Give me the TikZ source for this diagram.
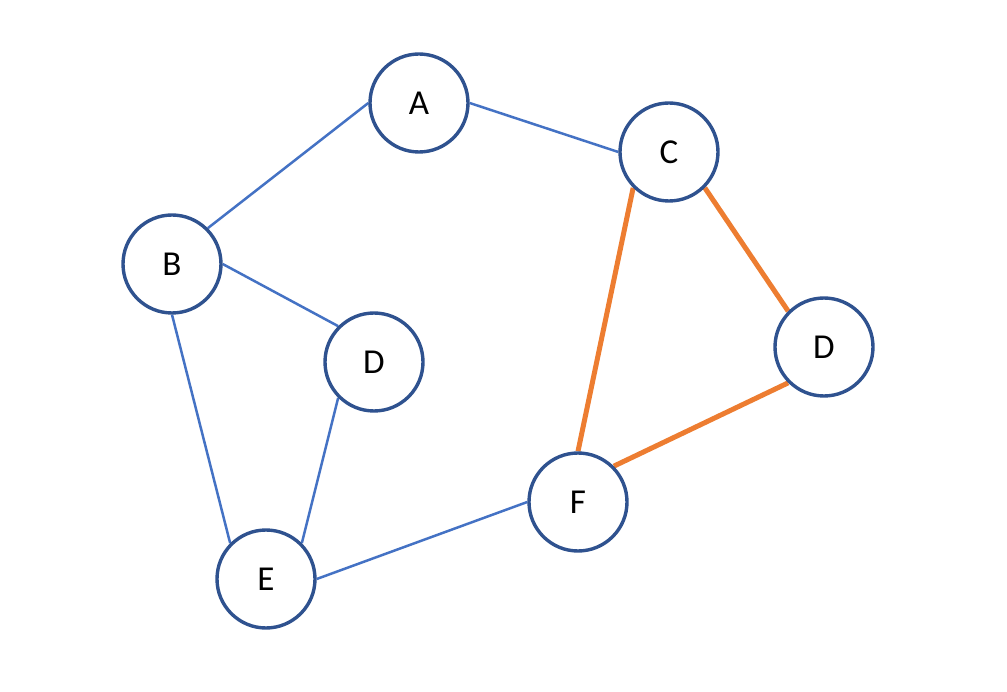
\documentclass[tikz,border=0pt]{standalone}
\usepackage{fontspec}
\setmainfont{Carlito}
\definecolor{nodeborder}{HTML}{2F528F}
\definecolor{blueedge}{HTML}{4472C4}
\definecolor{orangeedge}{HTML}{ED7D31}
\pgfdeclarelayer{bg}
\pgfsetlayers{bg,main}
\tikzset{
  vertex/.style={circle, draw=nodeborder, line width=3.4pt, fill=white, minimum size=98pt, inner sep=0pt, font=\fontsize{35}{40}\selectfont},
  bedge/.style={draw=blueedge, line width=2.5pt},
  oedge/.style={draw=orangeedge, line width=5pt}
}
\begin{document}
\begin{tikzpicture}[x=1pt,y=-1pt]
\useasboundingbox (0,0) rectangle (1007,692);
\node[vertex] (A) at (419,103) {A};
\node[vertex] (C) at (669,152) {C};
\node[vertex] (B) at (172,264) {B};
\node[vertex] (D1) at (374,362) {D};
\node[vertex] (D2) at (824,347) {D};
\node[vertex] (F) at (578,502) {F};
\node[vertex] (E) at (266,579) {E};
\begin{pgfonlayer}{bg}
\draw[bedge] (B.north east) -- (A.west);
\draw[bedge] (A.east) -- (C.west);
\draw[bedge] (B.east) -- (D1.north west);
\draw[bedge] (B.south) -- (E.north west);
\draw[bedge] (D1.south west) -- (E.north east);
\draw[bedge] (E.east) -- (F.west);
\draw[oedge] (C.south west) -- (F.north);
\draw[oedge] (C.south east) -- (D2.north west);
\draw[oedge] (D2.south west) -- (F.north east);
\end{pgfonlayer}
\end{tikzpicture}
\end{document}
